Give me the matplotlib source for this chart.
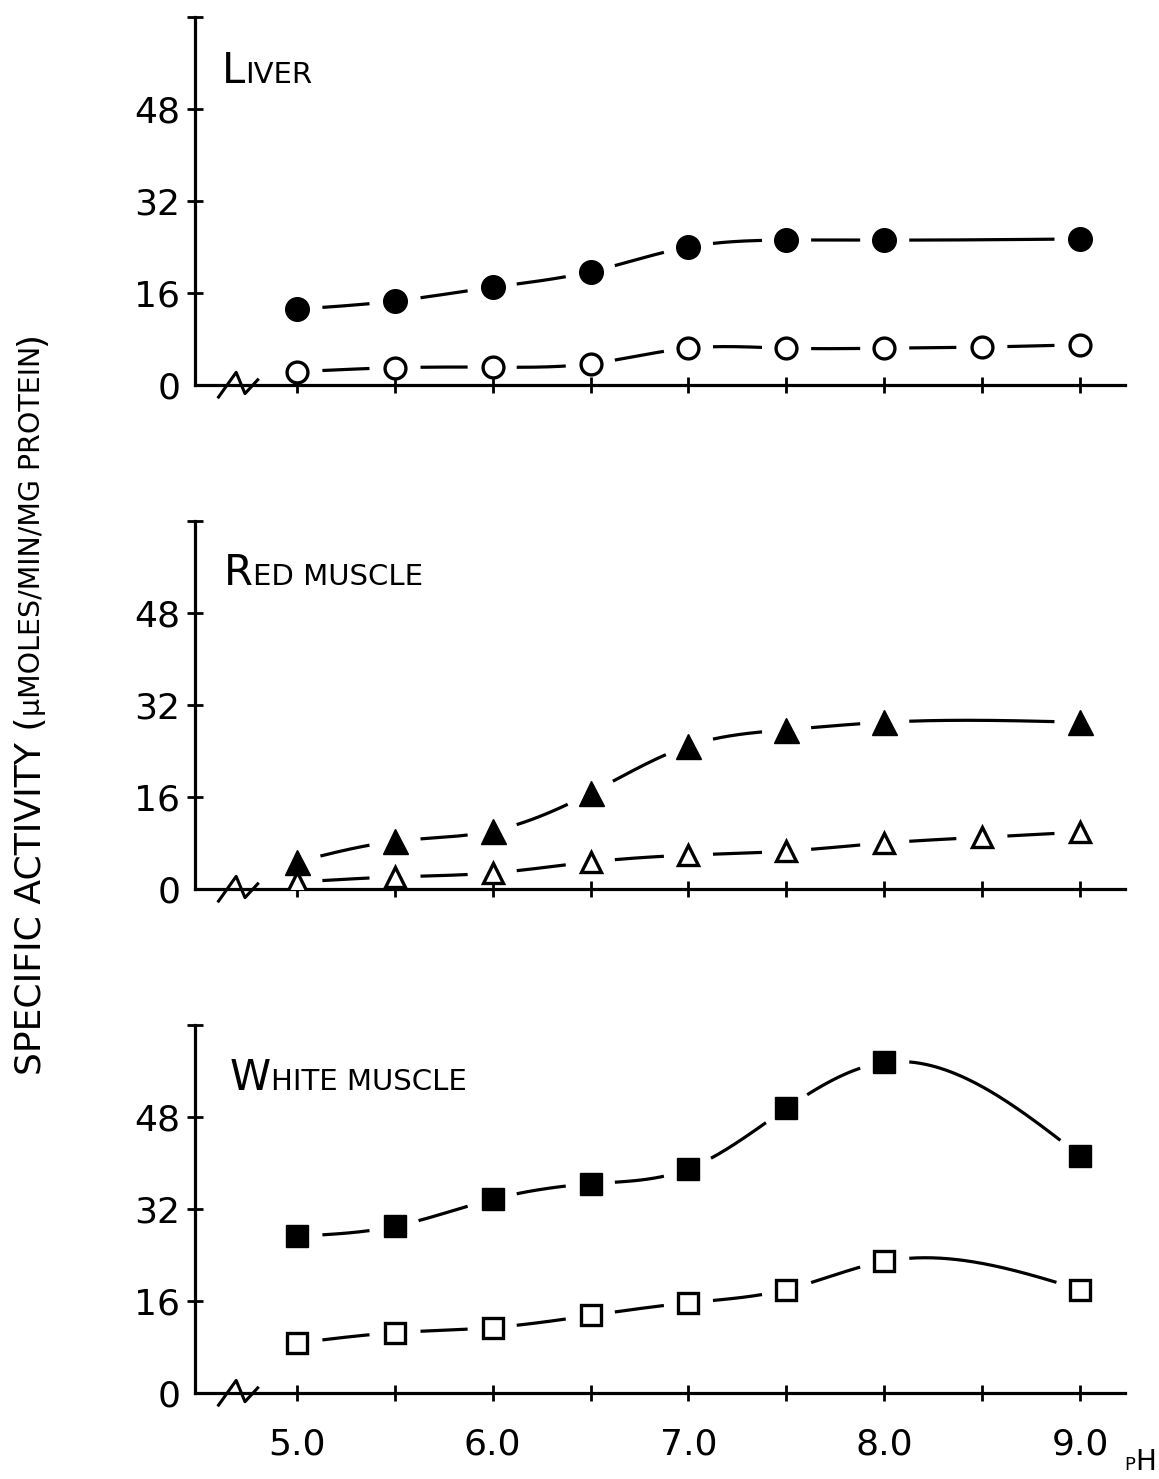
import numpy as np
import matplotlib

matplotlib.use("Agg")
import matplotlib.pyplot as plt

plt.rcParams["font.family"] = ["DejaVu Sans"]

# pH values at which activity was measured
ph_filled = [5.0, 5.5, 6.0, 6.5, 7.0, 7.5, 8.0, 9.0]
ph_open9 = [5.0, 5.5, 6.0, 6.5, 7.0, 7.5, 8.0, 8.5, 9.0]

liver_filled = [13.2, 14.6, 17.0, 19.7, 24.0, 25.2, 25.2, 25.4]
liver_open = [2.3, 3.0, 3.1, 3.7, 6.4, 6.4, 6.4, 6.6, 7.0]

red_filled = [4.7, 8.3, 10.1, 16.7, 24.9, 27.7, 29.0, 29.0]
red_open = [1.2, 2.1, 2.8, 4.7, 5.9, 6.6, 8.0, 9.0, 9.9]

white_filled = [27.3, 29.0, 33.7, 36.4, 39.0, 49.5, 57.5, 41.3]
white_open = [8.7, 10.5, 11.4, 13.5, 15.7, 18.0, 22.9, 18.0]

yticks = [0, 16, 32, 48, 64]
ytick_labels = ["0", "16", "32", "48", ""]
xticks = [5.0, 5.5, 6.0, 6.5, 7.0, 7.5, 8.0, 8.5, 9.0]
xtick_labels = ["5.0", "", "6.0", "", "7.0", "", "8.0", "", "9.0"]

DESC = 0.22  # descent as fraction of font size


def natural_spline(x, y, n=400):
    x = np.asarray(x, float)
    y = np.asarray(y, float)
    k = len(x)
    h = np.diff(x)
    A = np.zeros((k, k))
    r = np.zeros(k)
    A[0, 0] = A[-1, -1] = 1.0
    for i in range(1, k - 1):
        A[i, i - 1] = h[i - 1]
        A[i, i] = 2 * (h[i - 1] + h[i])
        A[i, i + 1] = h[i]
        r[i] = 6 * ((y[i + 1] - y[i]) / h[i] - (y[i] - y[i - 1]) / h[i - 1])
    M = np.linalg.solve(A, r)
    xs = np.linspace(x[0], x[-1], n)
    idx = np.clip(np.searchsorted(x, xs) - 1, 0, k - 2)
    x0, x1 = x[idx], x[idx + 1]
    hh = x1 - x0
    a = (x1 - xs) / hh
    b = (xs - x0) / hh
    ys = (a * y[idx] + b * y[idx + 1]
          + ((a ** 3 - a) * M[idx] + (b ** 3 - b) * M[idx + 1]) * hh ** 2 / 6)
    return xs, ys


def curve_with_gaps(ax, x, y, gap=24):
    xs, ys = natural_spline(x, y)
    pts = ax.transData.transform(np.column_stack([xs, ys]))
    marks = ax.transData.transform(np.column_stack([x, y]))
    d = np.min(np.hypot(pts[:, None, 0] - marks[None, :, 0],
                        pts[:, None, 1] - marks[None, :, 1]), axis=1)
    ys = np.where(d < gap, np.nan, ys)
    ax.plot(xs, ys, color="black", lw=2.3, solid_capstyle="butt", zorder=2)


def caps_text(fig, anchor_ax, x, y, parts, rotation=0):
    prev, prev_size = None, None
    for txt, size in parts:
        if prev is None:
            if rotation == 0:
                prev = fig.text(x, y, txt, fontsize=size, ha="left", va="baseline")
            else:
                prev = fig.text(x, y, txt, fontsize=size, rotation=90,
                                ha="right", va="bottom")
        else:
            shift = DESC * (prev_size - size)
            if rotation == 0:
                prev = anchor_ax.annotate(txt, xy=(1, 0), xycoords=prev,
                                          xytext=(0, shift), textcoords="offset points",
                                          ha="left", va="bottom", fontsize=size,
                                          annotation_clip=False)
            else:
                prev = anchor_ax.annotate(txt, xy=(1, 1), xycoords=prev,
                                          xytext=(-shift, 0), textcoords="offset points",
                                          ha="right", va="bottom", fontsize=size,
                                          rotation=90, annotation_clip=False)
        prev_size = size


fig = plt.figure(figsize=(11.59, 14.79), dpi=100)
left, width, height = 0.1683, 0.8024, 0.2488
bottoms = [0.7397, 0.3989, 0.0581]
axes = [fig.add_axes([left, b, width, height]) for b in bottoms]

panels = [
    (liver_filled, ph_filled, "o", 17, liver_open, ph_open9, "o", 15),
    (red_filled, ph_filled, "^", 18, red_open, ph_open9, "^", 15),
    (white_filled, ph_filled, "s", 15.5, white_open, ph_filled, "s", 14),
]

for i, ax in enumerate(axes):
    ax.patch.set_visible(False)
    ax.set_xlim(4.48, 9.23)
    ax.set_ylim(0, 64)
    for s in ("top", "right"):
        ax.spines[s].set_visible(False)
    for s in ("left", "bottom"):
        ax.spines[s].set_linewidth(2.3)
    ax.set_axisbelow(False)
    ax.set_yticks(yticks)
    ax.set_yticklabels(ytick_labels)
    ax.set_xticks(xticks)
    ax.set_xticklabels(xtick_labels if i == 2 else [""] * len(xticks))
    ax.tick_params(direction="inout", length=11, width=2, labelsize=26, pad=5)
    ax.tick_params(axis="x", pad=19)
    ax.yaxis.get_major_ticks()[0].tick1line.set_visible(False)

    yf, xf, mf, sf, yo, xo, mo, so = panels[i]
    curve_with_gaps(ax, xf, yf)
    curve_with_gaps(ax, xo, yo)
    ax.plot(xf, yf, ls="none", marker=mf, ms=sf, color="black", zorder=3)
    ax.plot(xo, yo, ls="none", marker=mo, ms=so, mfc="white", mec="black",
            mew=2.4, zorder=3)

    # axis break on the pH axis
    ax.plot([4.60, 4.69, 4.735, 4.80], [-2.1, 2.2, -1.5, 0.9], color="black",
            lw=2.2, clip_on=False, zorder=4)

# panel titles in small capitals
caps_text(fig, axes[0], 222 / 1159, 1 - 83 / 1479, [("L", 30), ("IVER", 21)])
caps_text(fig, axes[1], 224 / 1159, 1 - 585 / 1479, [("R", 30), ("ED MUSCLE", 21)])
caps_text(fig, axes[2], 230 / 1159, 1 - 1090 / 1479, [("W", 30), ("HITE MUSCLE", 21)])

# pH unit below the axis end
caps_text(fig, axes[2], 1124 / 1159, 1 - 1470 / 1479, [("P", 13), ("H", 20)])

# vertical axis title
caps_text(fig, axes[1], 48 / 1159, 1 - 1075 / 1479,
          [("SPECIFIC ACTIVITY (", 26), ("\u03bcMOLES/MIN/MG PROTEIN", 20.5), (")", 26)],
          rotation=90)

fig.savefig("out.png", dpi=100)
